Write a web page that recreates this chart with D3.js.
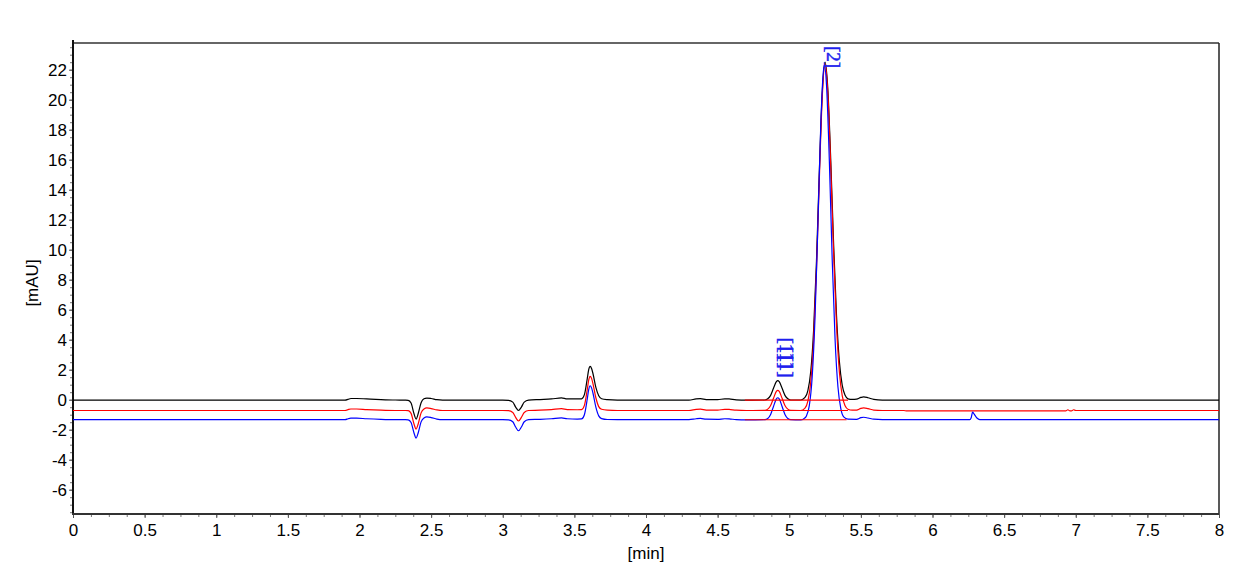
<!DOCTYPE html>
<html>
<head>
<meta charset="utf-8">
<script src="https://cdn.jsdelivr.net/npm/d3@7"></script>
<style>
body { margin: 0; background: #fff; }
text { font-family: "Liberation Sans", Arial, sans-serif; }
</style>
</head>
<body>
<script>
var width = 1249,
    height = 577;

// tick labels
var xTicks = [0, 0.5, 1, 1.5, 2, 2.5, 3, 3.5, 4, 4.5, 5, 5.5, 6, 6.5, 7, 7.5, 8];
var yTicks = [-6, -4, -2, 0, 2, 4, 6, 8, 10, 12, 14, 16, 18, 20, 22];

// [time (min), signal (mAU)]
var blackTrace = [
    [0.00,-0.03],[1.90,-0.03],[1.92,0.02],[1.94,0.08],[1.98,0.08],[2.05,0.05],[2.15,0.01],[2.25,-0.02],[2.32,-0.03],
    [2.34,-0.04],[2.36,-0.22],[2.38,-0.92],[2.395,-1.29],[2.41,-0.92],[2.43,-0.2],[2.45,0.06],[2.47,0.11],[2.50,0.08],[2.54,0.0],[2.58,-0.03],
    [3.00,-0.03],[3.04,-0.04],[3.07,-0.16],[3.09,-0.49],[3.11,-0.72],[3.13,-0.49],[3.15,-0.16],[3.18,-0.03],[3.26,0.01],[3.34,0.05],[3.41,0.12],[3.45,0.05],[3.52,0.05],
    [3.55,0.06],[3.57,0.34],[3.59,1.41],[3.60,2.0],[3.61,2.22],[3.62,2.08],[3.63,1.73],[3.65,0.82],[3.67,0.26],[3.69,0.06],[3.73,0.0],[3.80,-0.03],
    [4.30,-0.03],[4.35,0.05],[4.38,0.07],[4.42,0.01],[4.50,0.0],[4.55,0.06],[4.58,0.05],[4.63,-0.01],[4.70,-0.03],
    [4.83,-0.02],[4.85,0.06],[4.87,0.29],[4.89,0.76],[4.91,1.2],[4.92,1.27],[4.93,1.2],[4.95,0.76],[4.97,0.29],[4.99,0.06],[5.01,-0.02],[5.08,-0.02],
    [5.11,0.15],[5.13,0.61],[5.15,1.88],[5.17,4.61],[5.19,9.23],[5.21,15.2],[5.23,20.4],[5.25,22.5],[5.27,20.6],[5.29,15.9],[5.31,10.3],[5.33,5.6],[5.35,2.54],[5.37,0.96],[5.39,0.29],[5.41,0.06],[5.44,0.02],
    [5.47,0.04],[5.50,0.15],[5.52,0.19],[5.55,0.13],[5.59,0.02],[5.65,-0.03],[6.50,-0.03],[8.00,-0.03]
];

var redTrace = [
    [0.00,-0.72],[1.90,-0.72],[1.92,-0.66],[1.94,-0.62],[1.98,-0.62],[2.05,-0.66],[2.15,-0.70],[2.25,-0.72],[2.32,-0.72],
    [2.34,-0.73],[2.36,-0.91],[2.38,-1.6],[2.395,-1.96],[2.41,-1.6],[2.43,-0.88],[2.45,-0.62],[2.47,-0.55],[2.50,-0.59],[2.54,-0.68],[2.58,-0.72],
    [3.00,-0.72],[3.04,-0.73],[3.07,-0.85],[3.09,-1.18],[3.11,-1.42],[3.13,-1.18],[3.15,-0.85],[3.18,-0.72],[3.26,-0.7],[3.34,-0.66],[3.41,-0.6],[3.45,-0.66],[3.52,-0.67],
    [3.55,-0.66],[3.57,-0.38],[3.59,0.68],[3.60,1.3],[3.61,1.56],[3.62,1.42],[3.63,1.06],[3.65,0.13],[3.67,-0.46],[3.69,-0.64],[3.73,-0.7],[3.80,-0.72],
    [4.30,-0.72],[4.35,-0.65],[4.38,-0.63],[4.42,-0.69],[4.50,-0.70],[4.55,-0.64],[4.58,-0.65],[4.63,-0.70],[4.70,-0.72],
    [4.83,-0.71],[4.85,-0.63],[4.87,-0.39],[4.89,0.09],[4.91,0.55],[4.92,0.62],[4.93,0.55],[4.95,0.09],[4.97,-0.39],[4.99,-0.63],[5.01,-0.71],[5.08,-0.72],
    [5.11,-0.56],[5.13,-0.1],[5.15,1.17],[5.17,3.95],[5.19,8.65],[5.21,14.7],[5.23,20.1],[5.25,22.4],[5.27,20.3],[5.29,15.4],[5.31,9.7],[5.33,4.95],[5.35,1.85],[5.37,0.26],[5.39,-0.41],[5.41,-0.64],[5.44,-0.70],
    [5.47,-0.69],[5.50,-0.58],[5.52,-0.55],[5.55,-0.6],[5.59,-0.69],[5.65,-0.72],[5.80,-0.72],[5.82,-0.75],[6.93,-0.75],[6.945,-0.67],[6.96,-0.75],
    [6.97,-0.75],[6.985,-0.67],[7.00,-0.72],[8.00,-0.72]
];

var blueTrace = [
    [0.00,-1.33],[1.90,-1.33],[1.92,-1.27],[1.94,-1.23],[1.98,-1.23],[2.05,-1.27],[2.15,-1.31],[2.25,-1.33],[2.32,-1.33],
    [2.34,-1.34],[2.36,-1.52],[2.38,-2.2],[2.395,-2.56],[2.41,-2.2],[2.43,-1.48],[2.45,-1.22],[2.47,-1.15],[2.50,-1.19],[2.54,-1.29],[2.58,-1.33],
    [3.00,-1.33],[3.04,-1.34],[3.07,-1.47],[3.09,-1.82],[3.11,-2.07],[3.13,-1.82],[3.15,-1.47],[3.18,-1.33],[3.26,-1.31],[3.34,-1.27],[3.41,-1.21],[3.45,-1.27],[3.52,-1.29],
    [3.55,-1.28],[3.57,-1.0],[3.59,0.05],[3.60,0.67],[3.61,0.93],[3.62,0.79],[3.63,0.43],[3.65,-0.5],[3.67,-1.08],[3.69,-1.26],[3.73,-1.32],[3.80,-1.33],
    [4.30,-1.33],[4.35,-1.27],[4.38,-1.25],[4.42,-1.30],[4.50,-1.31],[4.55,-1.27],[4.58,-1.28],[4.63,-1.33],[4.70,-1.35],
    [4.83,-1.33],[4.85,-1.25],[4.87,-0.98],[4.89,-0.45],[4.91,0.05],[4.92,0.13],[4.93,0.05],[4.95,-0.45],[4.97,-0.98],[4.99,-1.25],[5.01,-1.33],[5.08,-1.35],
    [5.10,-1.28],[5.12,-1.08],[5.14,-0.4],[5.16,1.5],[5.18,5.5],[5.20,11.7],[5.22,18.3],[5.235,21.5],[5.245,22.3],[5.26,21.0],[5.28,15.9],[5.30,9.3],[5.32,4.0],[5.34,0.85],[5.36,-0.6],[5.38,-1.15],[5.41,-1.3],
    [5.47,-1.31],[5.50,-1.2],[5.52,-1.17],[5.55,-1.22],[5.59,-1.3],[5.65,-1.33],
    [6.26,-1.33],[6.27,-1.2],[6.28,-0.83],[6.29,-0.95],[6.31,-1.22],[6.33,-1.33],[8.00,-1.33]
];

// integration baselines [start, end, level]
var baselines = [
    [4.69, 5.41, -0.03],
    [4.69, 5.41, -0.72],
    [4.69, 5.40, -1.34]
];

// peak labels [text, time, value where label ends]
var peakLabels = [
    ['[1]', 4.92, 1.47],
    ['[1]', 4.92, 2.07],
    ['[1]', 4.92, 2.67],
    ['[2]', 5.25, 22.1]
];

var svg = d3.select('body').append('svg')
    .attr('width', width)
    .attr('height', height);

var x = d3.scaleLinear().domain([0, 8]).range([73, 1219]);
var y = d3.scaleLinear().domain([-7.62, 23.78]).range([514, 43]);

svg.append('clipPath').attr('id', 'plot')
    .append('rect')
    .attr('x', 73).attr('y', 43)
    .attr('width', 1219 - 73).attr('height', 514 - 43);

// minor ticks
svg.append('g')
    .attr('transform', 'translate(0,514)')
    .call(d3.axisBottom(x).tickValues(d3.range(0, 8.001, 0.125)).tickSize(3).tickFormat(''))
    .call(function (g) { g.select('.domain').remove(); g.selectAll('line').attr('stroke', '#777'); });

svg.append('g')
    .attr('transform', 'translate(73,0)')
    .call(d3.axisLeft(y).tickValues(d3.range(-7.5, 23.6, 0.5)).tickSize(3).tickFormat(''))
    .call(function (g) { g.select('.domain').remove(); g.selectAll('line').attr('stroke', '#777'); });

// major ticks + labels
svg.append('g')
    .attr('transform', 'translate(0,514)')
    .call(d3.axisBottom(x).tickValues(xTicks).tickSize(4).tickPadding(6).tickFormat(function (d) { return String(d); }))
    .call(function (g) {
        g.select('.domain').remove();
        g.selectAll('line').attr('stroke', '#555');
        g.selectAll('text').attr('fill', '#000').style('font-size', '17px');
    });

svg.append('g')
    .attr('transform', 'translate(73,0)')
    .call(d3.axisLeft(y).tickValues(yTicks).tickSize(4).tickPadding(2).tickFormat(function (d) { return String(d); }))
    .call(function (g) {
        g.select('.domain').remove();
        g.selectAll('line').attr('stroke', '#555');
        g.selectAll('text').attr('fill', '#000').style('font-size', '17px');
    });

// frame
svg.append('line').attr('x1', 73).attr('x2', 1219).attr('y1', 43).attr('y2', 43)
    .attr('stroke', '#333').attr('stroke-width', 1.5);
svg.append('line').attr('x1', 1219).attr('x2', 1219).attr('y1', 43).attr('y2', 514)
    .attr('stroke', '#222').attr('stroke-width', 1.5);
svg.append('line').attr('x1', 73).attr('x2', 73).attr('y1', 40).attr('y2', 515)
    .attr('stroke', '#111').attr('stroke-width', 2);
svg.append('line').attr('x1', 72).attr('x2', 1219).attr('y1', 514).attr('y2', 514)
    .attr('stroke', '#333').attr('stroke-width', 2);

// axis titles
svg.append('text')
    .attr('x', 646).attr('y', 559)
    .attr('text-anchor', 'middle')
    .style('font-size', '17px')
    .text('[min]');

svg.append('text')
    .attr('transform', 'translate(38,283) rotate(-90)')
    .attr('text-anchor', 'middle')
    .style('font-size', '17px')
    .text('[mAU]');

var line = d3.line()
    .x(function (d) { return x(d[0]); })
    .y(function (d) { return y(d[1]); })
    .curve(d3.curveMonotoneX);

var plot = svg.append('g').attr('clip-path', 'url(#plot)');

var traces = [[blackTrace, '#000000'], [redTrace, '#ff0000'], [blueTrace, '#0000ff']];
for (var i in traces) {
    plot.append('path')
        .datum(traces[i][0])
        .attr('d', line)
        .attr('fill', 'none')
        .attr('stroke', traces[i][1])
        .attr('stroke-width', 1.2);
}

for (var j in baselines) {
    plot.append('line')
        .attr('x1', x(baselines[j][0]))
        .attr('x2', x(baselines[j][1]))
        .attr('y1', y(baselines[j][2]))
        .attr('y2', y(baselines[j][2]))
        .attr('stroke', '#ff0000')
        .attr('stroke-width', 1.1);
}

for (var k in peakLabels) {
    svg.append('text')
        .attr('transform', 'translate(' + (x(peakLabels[k][1]) + 2) + ',' + y(peakLabels[k][2]) + ') rotate(90)')
        .attr('text-anchor', 'end')
        .attr('fill', '#1f1fee')
        .attr('stroke', '#1f1fee')
        .attr('stroke-width', 0.5)
        .style('font-family', '"Liberation Serif", "Times New Roman", serif')
        .style('font-size', '19px')
        .text(peakLabels[k][0]);
}
</script>
</body>
</html>
